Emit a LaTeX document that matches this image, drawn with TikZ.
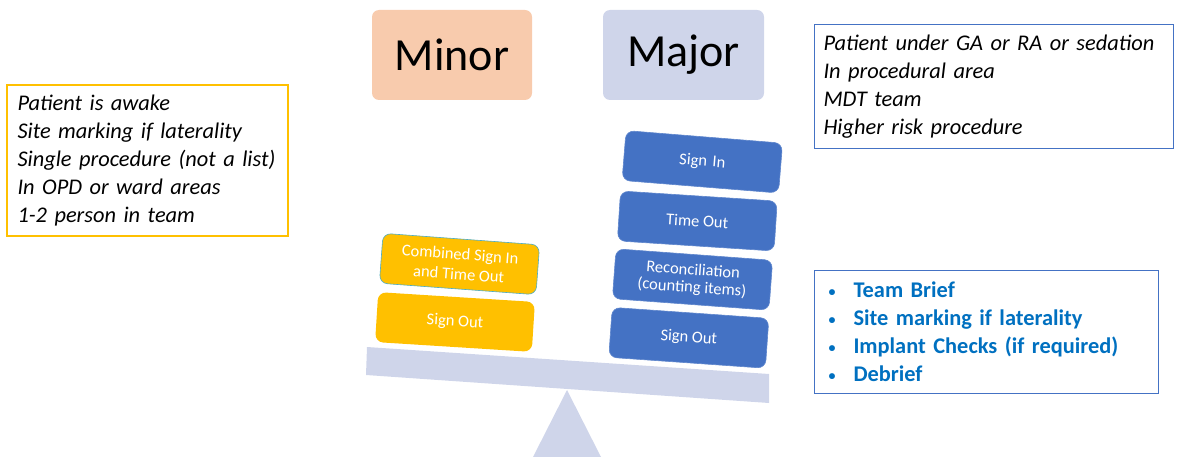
\documentclass[tikz,border=0pt]{standalone}
\usepackage{fontspec}
\setmainfont{Carlito}
\definecolor{minorfill}{HTML}{F8CBAD}
\definecolor{majorfill}{HTML}{CFD5EA}
\definecolor{goldline}{RGB}{255,192,0}
\definecolor{accblue}{HTML}{4472C4}
\definecolor{txtblue}{HTML}{0070C0}
\definecolor{tealline}{HTML}{4BACC6}
\newcommand{\mybul}{\makebox[25pt][l]{\raisebox{1pt}{\fontsize{14}{14}\selectfont\textbullet}}}
\begin{document}
\begin{tikzpicture}[x=1pt,y=-1pt,
  titlebox/.style={rounded corners=7pt, minimum width=160pt, minimum height=90pt,
    font=\fontsize{46}{50}\selectfont, inner sep=0pt},
  blk/.style={rounded corners=8pt, minimum width=157pt, minimum height=50pt,
    text=white, font=\fontsize{16.5}{17.5}\selectfont, align=center, inner sep=2pt},
  yblk/.style={blk, fill=goldline},
  bblk/.style={blk, fill=accblue, draw=accblue!85!white, line width=0.6pt},
  infobox/.style={line width=1pt, anchor=north west, inner xsep=10pt, inner ysep=0pt,
    align=left},
]
\useasboundingbox (0,0) rectangle (1178,457);

% balance
\fill[majorfill] (567,390) -- (601,457) -- (533,457) -- cycle;
\fill[majorfill] (367,347) -- (769,374) -- (769,403) -- (366,375) -- cycle;

% titles
\node[titlebox, fill=minorfill] (minor) at (452,55) {Minor};
\node[titlebox, fill=majorfill, minimum width=161pt] (major) at (683.5,55) {Major};

% info boxes
\node[infobox, minimum width=280pt, minimum height=150pt, text width=260pt,
  font=\fontsize{22.4}{28}\selectfont\itshape] (minorinfo) at (7,85)
  {Patient is awake\\Site marking if laterality\\Single procedure (not a list)\\In OPD or ward areas\\1-2 person in team};
\draw[color=goldline, line width=1.2pt] (minorinfo.north west) rectangle (minorinfo.south east);
\node[infobox, draw=accblue, minimum width=359pt, minimum height=124pt, text width=341pt,
  inner xsep=9pt, font=\fontsize{22.4}{28}\selectfont\itshape] (majorinfo) at (814,24)
  {Patient under GA or RA or sedation\\In procedural area\\MDT team\\Higher risk procedure};
\node[infobox, draw=accblue, minimum width=344pt, minimum height=123pt, text width=316pt,
  inner xsep=14pt, text=txtblue, font=\fontsize{22.4}{28}\selectfont\bfseries] (extras) at (814,270)
  {\mybul Team Brief\\
   \mybul Site marking if laterality\\
   \mybul Implant Checks (if required)\\
   \mybul Debrief};

% minor blocks
\node[yblk, draw=tealline, line width=0.6pt, rotate=-4.2, font=\fontsize{16.5}{20}\selectfont] (combined) at (459.5,264) {Combined Sign In\\and Time Out};
\node[yblk, rotate=-3.6] (minsignout) at (455,322) {Sign Out};

% major blocks
\node[bblk, rotate=-4.6] (signin) at (702.3,161.8) {Sign\,\,In};
\node[bblk, rotate=-3.7] (timeout) at (697.3,221) {Time Out};
\node[bblk, rotate=-4.2] (recon) at (692.5,279.5) {Reconciliation\\(counting items)};
\node[bblk, rotate=-4] (majsignout) at (688.8,337.8) {Sign Out};
\end{tikzpicture}
\end{document}
